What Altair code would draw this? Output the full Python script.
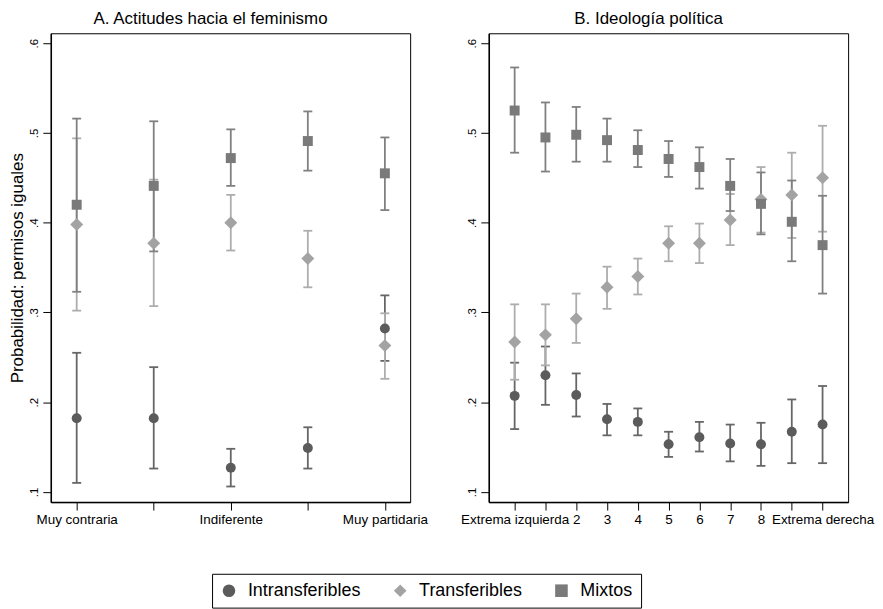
import altair as alt
import pandas as pd

FONT = "Liberation Sans"

# ---------------- data ----------------
series_names = ["Intransferibles", "Transferibles", "Mixtos"]

# Panel A: Actitudes hacia el feminismo
fem_pos = [1, 2, 3, 4, 5]
fem_labels = ["Muy contraria", "", "Indiferente", "", "Muy partidaria"]
intr_A = [0.182, 0.182, 0.127, 0.149, 0.282]
intr_A_lo = [0.110, 0.126, 0.106, 0.126, 0.246]
intr_A_hi = [0.255, 0.239, 0.148, 0.172, 0.319]
trans_A = [0.398, 0.377, 0.400, 0.360, 0.263]
trans_A_lo = [0.302, 0.307, 0.369, 0.328, 0.226]
trans_A_hi = [0.494, 0.448, 0.431, 0.391, 0.299]
mix_A = [0.420, 0.441, 0.472, 0.491, 0.455]
mix_A_lo = [0.323, 0.368, 0.441, 0.458, 0.414]
mix_A_hi = [0.516, 0.513, 0.504, 0.524, 0.495]

# Panel B: Ideología política
ideo_pos = [0, 1, 2, 3, 4, 5, 6, 7, 8, 9, 10]
ideo_labels = ["Extrema izquierda", "", "2", "3", "4", "5", "6", "7", "8", "", "Extrema derecha"]
intr_B = [0.207, 0.230, 0.208, 0.181, 0.178, 0.153, 0.161, 0.154, 0.153, 0.167, 0.175]
intr_B_lo = [0.170, 0.197, 0.184, 0.163, 0.163, 0.139, 0.145, 0.134, 0.129, 0.132, 0.132]
intr_B_hi = [0.244, 0.262, 0.232, 0.198, 0.193, 0.167, 0.178, 0.175, 0.177, 0.203, 0.218]
trans_B = [0.267, 0.275, 0.293, 0.328, 0.340, 0.377, 0.377, 0.403, 0.426, 0.431, 0.450]
trans_B_lo = [0.225, 0.241, 0.266, 0.304, 0.320, 0.357, 0.355, 0.375, 0.389, 0.383, 0.390]
trans_B_hi = [0.309, 0.309, 0.321, 0.351, 0.360, 0.396, 0.399, 0.432, 0.462, 0.478, 0.508]
mix_B = [0.525, 0.495, 0.498, 0.492, 0.481, 0.471, 0.462, 0.441, 0.421, 0.401, 0.375]
mix_B_lo = [0.478, 0.457, 0.468, 0.468, 0.462, 0.451, 0.438, 0.413, 0.387, 0.357, 0.321]
mix_B_hi = [0.573, 0.534, 0.529, 0.516, 0.503, 0.491, 0.484, 0.471, 0.456, 0.447, 0.430]

y_ticks = [0.1, 0.2, 0.3, 0.4, 0.5, 0.6]
y_tick_labels = [".1", ".2", ".3", ".4", ".5", ".6"]

# ---------------- style ----------------
marker_colors = ["#5b5b5b", "#a3a3a3", "#7a7a7a"]
bar_colors = ["#666666", "#adadad", "#808080"]
shapes = ["circle", "diamond", "square"]
marker_sizes = [100, 169, 100]


def label_expr(values, labels):
    expr = "''"
    for v, l in reversed(list(zip(values, labels))):
        expr = f"abs(datum.value - {v}) < 1e-6 ? '{l}' : ({expr})"
    return expr


def make_df(pos, groups):
    rows = []
    for name, (est, lo, hi) in zip(series_names, groups):
        for p, e, l, h in zip(pos, est, lo, hi):
            rows.append({"pos": p, "serie": name, "est": e, "lo": l, "hi": h})
    return pd.DataFrame(rows)


dfA = make_df(fem_pos, [(intr_A, intr_A_lo, intr_A_hi), (trans_A, trans_A_lo, trans_A_hi), (mix_A, mix_A_lo, mix_A_hi)])
dfB = make_df(ideo_pos, [(intr_B, intr_B_lo, intr_B_hi), (trans_B, trans_B_lo, trans_B_hi), (mix_B, mix_B_lo, mix_B_hi)])

y_scale = alt.Scale(domain=[0.0886, 0.6111], nice=False, zero=False)

legend = alt.Legend(
    title=None, orient="none", legendX=162, legendY=543, direction="horizontal",
    columns=3, symbolSize=160, labelFontSize=18, labelFont=FONT, labelColor="black",
    columnPadding=30, labelOffset=10, strokeColor="black", padding=8,
    symbolStrokeWidth=0, symbolOpacity=1,
)


def panel(df, pos, labels, title, xdomain, ytitle):
    x_axis = alt.Axis(values=pos, labelExpr=label_expr(pos, labels), title=None,
                      labelFlush=False, labelOverlap=False, labelFontSize=13.5,
                      labelPadding=2)
    y_axis = alt.Axis(values=y_ticks, labelExpr=label_expr(y_ticks, y_tick_labels),
                      title=ytitle if ytitle else None, labelAngle=270, labelAlign="center",
                      labelBaseline="bottom", labelFontSize=11.5, labelPadding=3,
                      titleFontSize=17, titlePadding=2)
    x = alt.X("pos:Q", scale=alt.Scale(domain=xdomain, nice=False, zero=False), axis=x_axis)
    base = alt.Chart(df)
    rule_layers = []
    mark_layers = []
    for i, s in enumerate(series_names):
        b = base.transform_filter(alt.datum.serie == s)
        rule_layers.append(
            b.mark_rule(color=bar_colors[i], strokeWidth=1.8).encode(
                x=x, y=alt.Y("lo:Q", scale=y_scale, axis=y_axis), y2="hi:Q"))
        for f in ["lo", "hi"]:
            rule_layers.append(
                b.mark_point(shape="M-1,0L1,0", size=81, strokeWidth=1.8, filled=False,
                             color=bar_colors[i], opacity=1).encode(
                    x=x, y=alt.Y(f"{f}:Q", scale=y_scale, axis=y_axis)))
        mark_layers.append(
            b.mark_point(filled=True, opacity=1, size=marker_sizes[i]).encode(
                x=x, y=alt.Y("est:Q", scale=y_scale, axis=y_axis),
                color=alt.Color("serie:N", scale=alt.Scale(domain=series_names, range=marker_colors), legend=legend),
                shape=alt.Shape("serie:N", scale=alt.Scale(domain=series_names, range=shapes), legend=legend),
            ))
    return alt.layer(*rule_layers, *mark_layers).properties(
        width=361, height=471,
        title=alt.TitleParams(title, fontSize=17, font=FONT, fontWeight="normal",
                              color="black", anchor="middle", offset=5, dx=-20),
    )


pA = panel(dfA, fem_pos, fem_labels, "A. Actitudes hacia el feminismo", [0.664, 5.328],
           "Probabilidad: permisos iguales")
pB = panel(dfB, ideo_pos, ideo_labels, "B. Ideología política", [-0.84, 10.83], None)

chart = alt.hconcat(pA, pB, spacing=79, bounds="flush").properties(
    padding=0, background="white"
).configure_view(stroke="black", strokeWidth=1).configure_axis(
    domainColor="black", domainWidth=1.5, tickColor="black", tickSize=8, tickWidth=1,
    grid=False, labelFont=FONT, titleFont=FONT, labelColor="black", titleColor="black",
    titleFontWeight="normal",
)

chart.save("out.html", embed_options={"renderer": "svg", "actions": False})
